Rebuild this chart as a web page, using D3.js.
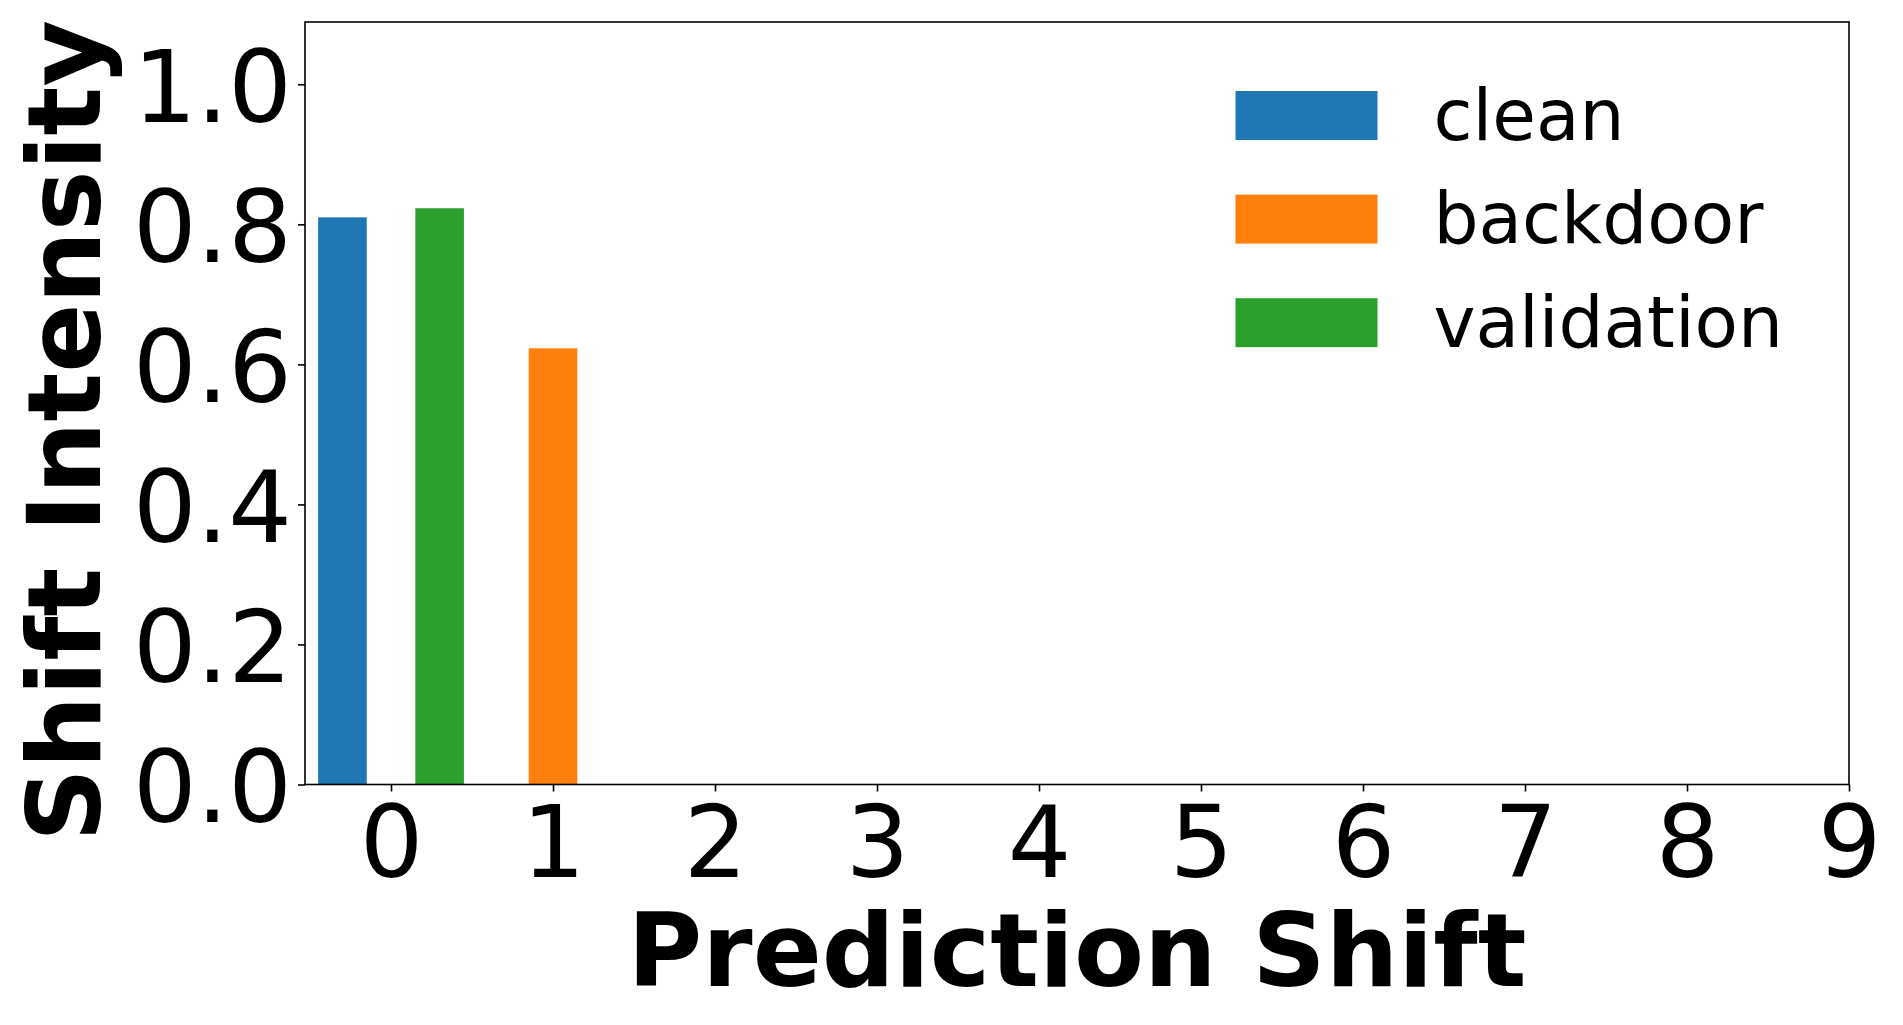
<!DOCTYPE html>
<html>
<head>
<meta charset="utf-8">
<script src="https://cdn.jsdelivr.net/npm/d3@7"></script>
<style>
  html, body { margin: 0; padding: 0; background: #fff; }
  svg { display: block; font-family: "DejaVu Sans", sans-serif; }
</style>
</head>
<body>
<div id="chart"></div>
<script>
//Datos
const categories = [0, 1, 2, 3, 4, 5, 6, 7, 8, 9];
const seriesNames = ['clean', 'backdoor', 'validation'];
const cleanValues = [0.810, 0, 0, 0, 0, 0, 0, 0, 0, 0];
const backdoorValues = [0, 0.623, 0, 0, 0, 0, 0, 0, 0, 0];
const validationValues = [0.823, 0, 0, 0, 0, 0, 0, 0, 0, 0];
const yTicks = [0.0, 0.2, 0.4, 0.6, 0.8, 1.0];

//Colores
const COLOR_BLUE = '#1f77b4',
COLOR_ORANGE = '#ff7f0e',
COLOR_GREEN = '#2ca02c';

const series = [
    { name: seriesNames[0], values: cleanValues, offset: -0.3, color: COLOR_BLUE },
    { name: seriesNames[1], values: backdoorValues, offset: 0, color: COLOR_ORANGE },
    { name: seriesNames[2], values: validationValues, offset: 0.3, color: COLOR_GREEN }
];
const barWidth = 0.3;

let margin = {top: 22, right: 54, bottom: 240.5, left: 305},
    totalW = 1903, totalH = 1025,
    width = totalW - margin.left - margin.right,
    height = totalH - margin.top - margin.bottom;

let svg = d3.select('#chart')
    .append('svg')
        .attr('width', totalW)
        .attr('height', totalH);

let chart = svg.append('g')
    .attr('transform', 'translate(' + margin.left + ',' + margin.top + ')');

//Escalas
let x = d3.scaleLinear()
    .domain([-0.531, 9])
    .range([0, width]);

let y = d3.scaleLinear()
    .domain([0, 1.089])
    .range([height, 0]);

//Barras
series.forEach(function(s) {
    chart.append('g')
        .selectAll('rect')
        .data(categories.map(function(c, i) { return { c: c, v: s.values[i] }; }))
        .enter()
        .append('rect')
            .attr('x', function(d) { return x(d.c + s.offset - barWidth / 2); })
            .attr('width', function(d) { return x(d.c + s.offset + barWidth / 2) - x(d.c + s.offset - barWidth / 2); })
            .attr('y', function(d) { return y(d.v); })
            .attr('height', function(d) { return height - y(d.v); })
            .attr('fill', s.color);
});

//Ejes
let xAxis = d3.axisBottom(x).tickValues(categories).tickSize(7).tickPadding(2).tickFormat(d3.format('d'));
let yAxis = d3.axisLeft(y).tickValues(yTicks).tickSize(7).tickPadding(6).tickFormat(d3.format('.1f'));

let gx = chart.append('g')
    .attr('transform', 'translate(0,' + height + ')')
    .call(xAxis);
gx.select('.domain').remove();
gx.selectAll('.tick line').attr('stroke', '#000').attr('stroke-width', 1.6);
gx.selectAll('.tick text')
    .attr('font-size', '100px')
    .attr('font-family', 'DejaVu Sans')
    .attr('fill', '#000')
    .attr('dy', null)
    .attr('y', 92);

let gy = chart.append('g').call(yAxis);
gy.select('.domain').remove();
gy.selectAll('.tick line').attr('stroke', '#000').attr('stroke-width', 1.6);
gy.selectAll('.tick text')
    .attr('font-size', '100px')
    .attr('font-family', 'DejaVu Sans')
    .attr('fill', '#000')
    .attr('dy', null)
    .attr('y', 37);

//Marco
chart.append('rect')
    .attr('x', 0).attr('y', 0)
    .attr('width', width).attr('height', height)
    .attr('fill', 'none')
    .attr('stroke', '#000')
    .attr('stroke-width', 1.6);

//Títulos de ejes
svg.append('text')
    .attr('x', margin.left + width / 2)
    .attr('y', 986)
    .attr('text-anchor', 'middle')
    .attr('font-size', '102px')
    .attr('font-weight', 'bold')
    .text('Prediction Shift');

svg.append('text')
    .attr('transform', 'translate(100,431) rotate(-90)')
    .attr('text-anchor', 'middle')
    .attr('font-size', '102px')
    .attr('font-weight', 'bold')
    .text('Shift Intensity');

//Leyenda
let legend = svg.append('g')
    .attr('transform', 'translate(1235.5,91)');

series.forEach(function(s, i) {
    let g = legend.append('g').attr('transform', 'translate(0,' + (i * 103.6) + ')');
    g.append('rect')
        .attr('width', 142)
        .attr('height', 49)
        .attr('fill', s.color);
    g.append('text')
        .attr('x', 198)
        .attr('y', 48.6)
        .attr('font-size', '71px')
        .text(s.name);
});
</script>
</body>
</html>
